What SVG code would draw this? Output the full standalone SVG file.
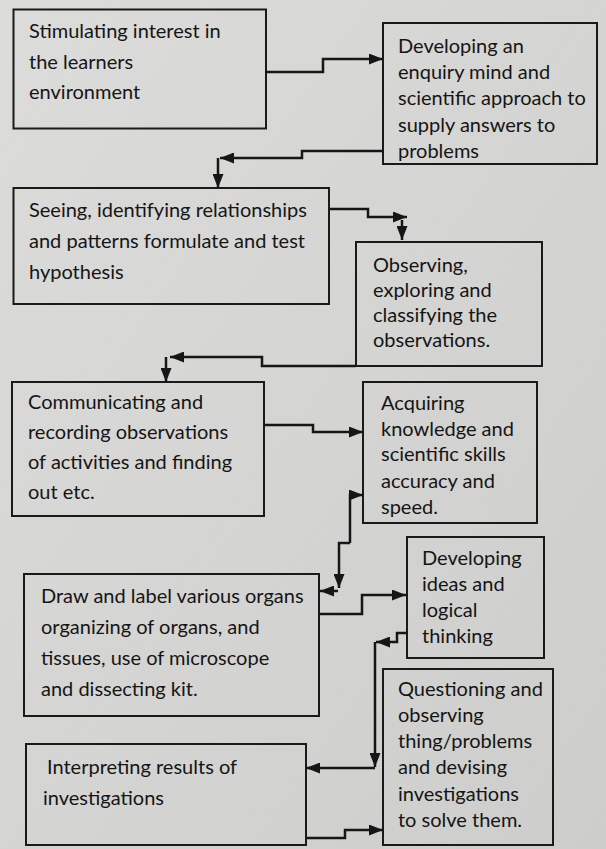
<svg xmlns="http://www.w3.org/2000/svg" width="606" height="849" viewBox="0 0 606 849">
<defs>
<linearGradient id="bg" x1="0" y1="0" x2="1" y2="1">
<stop offset="0" stop-color="#dcdcda"/>
<stop offset="1" stop-color="#cdcdcb"/>
</linearGradient>
<marker id="ah" viewBox="0 0 14 11" refX="14" refY="5.5" markerWidth="14" markerHeight="11" markerUnits="userSpaceOnUse" orient="auto">
<path d="M0,0 L14,5.5 L0,11 z" fill="#161616"/>
</marker>
<style>
.box{fill:none;stroke:#1a1a1a;stroke-width:2}
.t{font-family:Lato,"Liberation Sans",sans-serif;font-size:20px;fill:#151515}
.c{fill:none;stroke:#161616;stroke-width:2.5;marker-end:url(#ah)}
</style>
</defs>
<rect width="606" height="849" fill="url(#bg)"/>
<g id="n1">
<rect class="box" x="13.5" y="9.5" width="252.5" height="119"/>
<text class="t" x="29" y="38">Stimulating interest in</text>
<text class="t" x="29" y="69">the learners</text>
<text class="t" x="29" y="99">environment</text>
</g>
<g id="n2">
<rect class="box" x="383" y="23" width="214" height="141"/>
<text class="t" x="398" y="53">Developing an</text>
<text class="t" x="398" y="79">enquiry mind and</text>
<text class="t" x="398" y="105">scientific approach to</text>
<text class="t" x="398" y="132">supply answers to</text>
<text class="t" x="398" y="158">problems</text>
</g>
<g id="n3">
<rect class="box" x="13.5" y="188" width="315.5" height="116"/>
<text class="t" x="29" y="217">Seeing, identifying relationships</text>
<text class="t" x="29" y="248">and patterns formulate and test</text>
<text class="t" x="29" y="279">hypothesis</text>
</g>
<g id="n4">
<rect class="box" x="356" y="242" width="186" height="124"/>
<text class="t" x="373" y="272">Observing,</text>
<text class="t" x="373" y="297">exploring and</text>
<text class="t" x="373" y="322">classifying the</text>
<text class="t" x="373" y="347">observations.</text>
</g>
<g id="n5">
<rect class="box" x="12" y="382" width="252" height="134"/>
<text class="t" x="28" y="409">Communicating and</text>
<text class="t" x="28" y="439">recording observations</text>
<text class="t" x="28" y="469">of activities and finding</text>
<text class="t" x="28" y="499">out etc.</text>
</g>
<g id="n6">
<rect class="box" x="363" y="382" width="174" height="141"/>
<text class="t" x="381" y="410">Acquiring</text>
<text class="t" x="381" y="436">knowledge and</text>
<text class="t" x="381" y="461">scientific skills</text>
<text class="t" x="381" y="488">accuracy and</text>
<text class="t" x="381" y="514">speed.</text>
</g>
<g id="n7">
<rect class="box" x="407" y="537" width="137" height="121"/>
<text class="t" x="422" y="565">Developing</text>
<text class="t" x="422" y="591">ideas and</text>
<text class="t" x="422" y="617">logical</text>
<text class="t" x="422" y="643">thinking</text>
</g>
<g id="n8">
<rect class="box" x="24" y="574" width="295" height="142"/>
<text class="t" x="41" y="603">Draw and label various organs</text>
<text class="t" x="41" y="634">organizing of organs, and</text>
<text class="t" x="41" y="665">tissues, use of microscope</text>
<text class="t" x="41" y="696">and dissecting kit.</text>
</g>
<g id="n9">
<rect class="box" x="26" y="744" width="280" height="101"/>
<text class="t" x="47" y="774">Interpreting results of</text>
<text class="t" x="43" y="805">investigations</text>
</g>
<g id="n10">
<rect class="box" x="383" y="669" width="170" height="176"/>
<text class="t" x="398" y="696">Questioning and</text>
<text class="t" x="398" y="722">observing</text>
<text class="t" x="398" y="748">thing/problems</text>
<text class="t" x="398" y="774">and devising</text>
<text class="t" x="398" y="801">investigations</text>
<text class="t" x="398" y="827">to solve them.</text>
</g>
<g id="connectors">
<path class="c" d="M266,72 H323 V59 H383"/>
<path class="c" d="M383,151 H302 V158 H220"/>
<path class="c" d="M218,158 V188"/>
<path class="c" d="M330,209 H368 V217 H407"/>
<path class="c" d="M402,220 V240"/>
<path class="c" d="M356,366 H262 V357 H170"/>
<path class="c" d="M166,357 V382"/>
<path class="c" d="M264,425 H313 V432 H363"/>
<path class="c" d="M350,543 V495 H363"/>
<path class="c" d="M350,543 H339 V588"/>
<path class="c" d="M338,591 H320"/>
<path class="c" d="M319,614 H362 V595 H406"/>
<path class="c" d="M407,633 H397 V642 H376"/>
<path class="c" d="M375,642 V767"/>
<path class="c" d="M375,768 H306"/>
<path class="c" d="M306,838 H345 V830 H383"/>
</g>
</svg>
